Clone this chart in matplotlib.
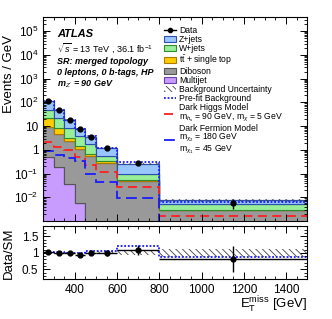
import numpy as np
import matplotlib
matplotlib.use("Agg")
import matplotlib.pyplot as plt
from matplotlib.ticker import FixedLocator, LogLocator, MultipleLocator, NullFormatter
from matplotlib.patches import Patch
from matplotlib.lines import Line2D

plt.rcParams['font.family'] = ['Liberation Sans', 'DejaVu Sans']
plt.rcParams['mathtext.fontset'] = 'custom'
plt.rcParams['mathtext.rm'] = 'Liberation Sans'
plt.rcParams['mathtext.it'] = 'Liberation Sans:italic'
plt.rcParams['mathtext.bf'] = 'Liberation Sans:bold'
plt.rcParams['hatch.linewidth'] = 0.6

# bin edges in MET [GeV]
edges = [250, 300, 350, 400, 450, 500, 600, 800, 1500]

# background components, events / GeV
multijet = [0.5, 0.19, 0.036, 0.006, 0.0003, 0.0001, 0.00005, 0.00001]
diboson = [9.0, 4.6, 2.36, 1.09, 0.55, 0.28, 0.048, 0.0028]
ttbar = [11.5, 3.9, 0.8, 0.4, 0.13, 0.06, 0.004, 0.0002]
wjets = [25.0, 12.3, 5.5, 2.5, 1.12, 0.21, 0.043, 0.002]
zjets = [64.0, 25.0, 10.3, 3.9, 1.8, 0.65, 0.155, 0.0024]

data = [112, 46, 19, 7.4, 3.6, 1.19, 0.27, 0.006]
data_err = [1.5, 0.96, 0.6, 0.39, 0.27, 0.11, 0.037, 0.0029]

prefit_ratio = [1.0, 1.03, 1.0, 0.99, 1.04, 1.04, 1.22, 0.87]
bkg_unc = [0.02, 0.02, 0.02, 0.03, 0.03, 0.04, 0.08, 0.12]

dark_higgs = [2.2, 1.3, 1.0, 0.5, 0.23, 0.115, 0.026, 0.0017]
dark_fermion = [0.9, 0.6, 0.46, 0.34, 0.1, 0.044, 0.009, 0.0004]

names = ['Multijet', 'Diboson', r'$\mathrm{t\bar{t}}$ + single top', 'W+jets', 'Z+jets']
fills = ['#c89bff', '#999999', '#ffcc00', '#99ee99', '#99c6ff']
lines = ['#6a3fb0', '#555555', '#b07a00', '#2e8b2e', '#2a4fb0']


def main():
    e = np.array(edges, dtype=float)
    centers = 0.5 * (e[1:] + e[:-1])
    halfw = 0.5 * (e[1:] - e[:-1])
    comps = [np.array(c) for c in [multijet, diboson, ttbar, wjets, zjets]]
    total = np.sum(comps, axis=0)
    d = np.array(data)
    de = np.array(data_err)
    unc = np.array(bkg_unc)

    fig = plt.figure(figsize=(3.32, 3.19), dpi=100)
    ax = fig.add_axes([0.13, 0.307, 0.795, 0.64])
    rax = fig.add_axes([0.13, 0.125, 0.795, 0.165])

    base = np.full(len(total), 1e-6)
    for c, fc, lc in zip(comps, fills, lines):
        ax.stairs(base + c, e, baseline=base, fill=True, facecolor=fc,
                  edgecolor=lc, linewidth=0.8)
        ax.stairs(base + c, e, baseline=None, color=lc, linewidth=0.8)
        base = base + c

    ax.stairs(total * (1 + unc), e, baseline=total * (1 - unc), fill=True,
              facecolor='none', edgecolor='#444444', hatch='\\\\\\\\\\', linewidth=0)
    ax.stairs(total * np.array(prefit_ratio), e, baseline=None, color='#1a1aff',
              linestyle=(0, (1, 1)), linewidth=1.3)
    ax.stairs(dark_higgs, e, baseline=None, color='#ff2020',
              linestyle=(0, (5, 3)), linewidth=1.3)
    ax.stairs(dark_fermion, e, baseline=None, color='#1a1aff',
              linestyle=(0, (6, 3)), linewidth=1.3)
    ax.errorbar(centers, d, yerr=de, fmt='o', color='black', ms=3.5,
                elinewidth=1.0, capsize=0)

    ax.set_yscale('log')
    ax.set_xlim(250, 1500)
    ax.set_ylim(1e-3, 4e5)
    yt = [1e-2, 1e-1, 1, 10, 1e2, 1e3, 1e4, 1e5]
    ax.yaxis.set_major_locator(FixedLocator(yt))
    ax.set_yticklabels([r'$10^{-2}$', r'$10^{-1}$', '1', '10', r'$10^{2}$',
                        r'$10^{3}$', r'$10^{4}$', r'$10^{5}$'])
    ax.yaxis.set_minor_locator(LogLocator(base=10, subs=np.arange(2, 10), numticks=20))
    ax.yaxis.set_minor_formatter(NullFormatter())
    ax.xaxis.set_major_locator(MultipleLocator(200))
    ax.xaxis.set_minor_locator(MultipleLocator(50))
    ax.tick_params(axis='x', labelbottom=False)
    ax.set_ylabel('Events / GeV', fontsize=9.5, ha='right')
    ax.yaxis.set_label_coords(-0.108, 0.91)

    for a in (ax, rax):
        a.tick_params(which='both', direction='in', top=True, right=True, labelsize=8.5)
        a.tick_params(which='major', length=5, width=0.7)
        a.tick_params(which='minor', length=2.5, width=0.6)
        for s in a.spines.values():
            s.set_linewidth(0.8)

    # labels
    ax.text(0.053, 0.915, 'ATLAS', transform=ax.transAxes, fontsize=8,
            fontweight='bold', fontstyle='italic', va='center')
    ax.text(0.053, 0.848, r'$\sqrt{s}$ = 13 TeV , 36.1 fb$^{-1}$', transform=ax.transAxes,
            fontsize=6.5, va='center')
    for yy, txt in [(0.78, 'SR: merged topology'), (0.727, '0 leptons, 0 b-tags, HP'),
                    (0.67, r"m$_{Z'}$ = 90 GeV")]:
        ax.text(0.053, yy, txt, transform=ax.transAxes, fontsize=6.5,
                fontweight='bold', fontstyle='italic', va='center')

    handles = [Line2D([], [], color='black', marker='o', ms=3, lw=1)]
    for i in range(4, -1, -1):
        handles.append(Patch(facecolor=fills[i], edgecolor=lines[i], lw=0.8))
    handles.append(Patch(facecolor='none', edgecolor='#444444', hatch='\\\\\\\\\\', lw=0))
    handles.append(Line2D([], [], color='#1a1aff', ls=(0, (1, 1)), lw=1.3))
    handles.append(Line2D([], [], color='#ff2020', ls=(0, (5, 3)), lw=1.3))
    handles.append(Line2D([], [], color='#1a1aff', ls=(0, (6, 3)), lw=1.3))
    labels = ['Data'] + names[::-1] + [
        'Background Uncertainty', 'Pre-fit Background',
        'Dark Higgs Model\n' + r'm$_{h_s}$ = 90 GeV, m$_{\chi}$ = 5 GeV',
        'Dark Fermion Model\n' + r'm$_{\chi_2}$ = 180 GeV' + '\n' + r'm$_{\chi_1}$ = 45 GeV']
    leg = ax.legend(handles, labels, loc='upper left', bbox_to_anchor=(0.44, 0.98),
                    frameon=False, fontsize=6.2, handlelength=1.3, handleheight=0.7,
                    labelspacing=0.0, handletextpad=0.4, borderpad=0.1)
    for t in leg.get_texts():
        t.set_linespacing(0.95)

    # ratio panel
    rax.stairs(1 + unc, e, baseline=1 - unc, fill=True, facecolor='none',
               edgecolor='#444444', hatch='\\\\\\\\\\', linewidth=0)
    rax.stairs(prefit_ratio, e, baseline=None, color='#1a1aff',
               linestyle=(0, (1, 1)), linewidth=1.3)
    rax.errorbar(centers, d / total, yerr=de / total, xerr=halfw, fmt='o',
                 color='black', ms=3.5, elinewidth=1.0, capsize=0)
    rax.set_xlim(250, 1500)
    rax.set_ylim(0.2, 1.8)
    rax.yaxis.set_major_locator(FixedLocator([0.5, 1.0, 1.5]))
    rax.set_yticklabels(['0.5', '1', '1.5'])
    rax.yaxis.set_minor_locator(MultipleLocator(0.1))
    rax.xaxis.set_major_locator(MultipleLocator(200))
    rax.xaxis.set_minor_locator(MultipleLocator(50))
    rax.set_ylabel('Data/SM', fontsize=9.5)
    rax.yaxis.set_label_coords(-0.108, 0.5)
    rax.set_xlabel(r'E$_{\mathrm{T}}^{\mathrm{miss}}$ [GeV]', fontsize=9.5, loc='right',
                   labelpad=-1)

    fig.savefig('out.png', dpi=100)


if __name__ == "__main__":
    main()
